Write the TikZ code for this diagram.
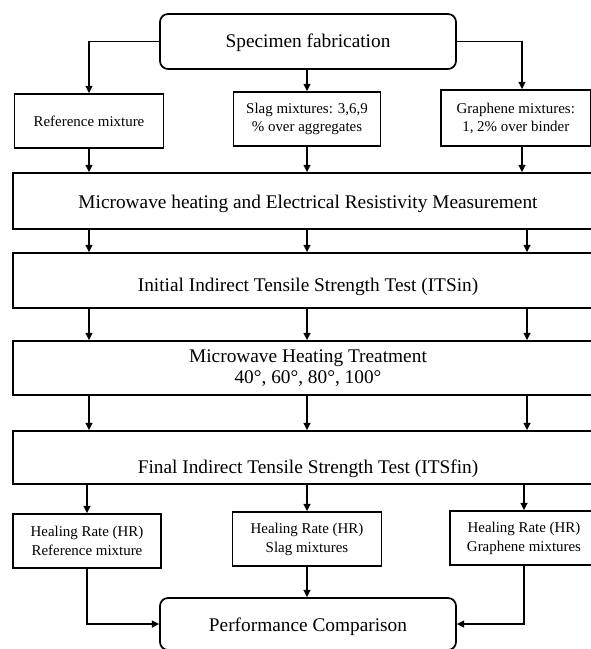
\documentclass[tikz,border=0pt]{standalone}
\usepackage{fontspec}
\setmainfont{Liberation Serif}
\usetikzlibrary{arrows.meta}

\tikzset{
  box/.style={draw, line width=1.3pt, align=center, inner sep=0pt},
  wide/.style={box, minimum width=442.5pt, font=\fontsize{14.5}{16.3}\selectfont},
  rbox/.style={box, rounded corners=6pt, minimum width=222pt, font=\fontsize{14.5}{16.3}\selectfont},
  small/.style={box, minimum height=40.5pt, font=\fontsize{11.2}{14.3}\selectfont},
  tight/.style={font=\fontsize{11.2}{13.5}\selectfont},
  drop/.style={text height=#1, text depth=3pt},
  arr/.style={-{Triangle[length=5.5pt,width=5.2pt]}, line width=1.3pt},
}

\begin{document}
\begin{tikzpicture}[x=0.75pt, y=-0.75pt]
\useasboundingbox (0,0) rectangle (590,649);
% columns of the arrows
\coordinate (cL) at (89,0);
\coordinate (cM) at (307,0);
\coordinate (cR) at (527,0);
\coordinate (cRt) at (522,0);

\node[rbox, minimum height=41.25pt, drop=11.7pt] (spec) at (308,41.5) {Specimen fabrication};
\node[small, tight, minimum width=111.75pt] (ref) at (89,121) {Reference mixture};
\node[small, tight, minimum width=110.25pt] (slag) at (307,119) {Slag mixtures: 3,6,9\\ \% over aggregates};
\node[small, tight, minimum width=112.7pt, minimum height=42pt] (graph) at (515.8,118) {Graphene mixtures:\\ 1, 2\% over binder};

\node[wide, minimum height=42pt, drop=14.7pt] (mwh) at (308,201) {Microwave heating and Electrical Resistivity Measurement};
\node[wide, minimum height=41.25pt, drop=19.9pt] (itsin) at (308,280.5) {Initial Indirect Tensile Strength Test (ITSin)};
\node[wide, minimum height=40.5pt] (mht) at (308,368) {Microwave Heating Treatment\\ 40°, 60°, 80°, 100°};
\node[wide, minimum height=39.75pt, drop=26.7pt] (itsfin) at (308,457.5) {Final Indirect Tensile Strength Test (ITSfin)};

\node[small, minimum width=111pt] (hrref) at (87,541) {Healing Rate (HR)\\ Reference mixture};
\node[small, minimum width=111.6pt] (hrslag) at (307,539) {Healing Rate (HR)\\ Slag mixtures};
\node[small, minimum width=111pt] (hrgraph) at (524,538) {Healing Rate (HR)\\ Graphene mixtures};
\node[rbox, minimum height=39pt, drop=14.7pt] (perf) at (308,624) {Performance Comparison};

% fabrication to the mixtures
\draw[arr] (spec.west) -| (ref.north);
\draw[arr] (spec.south -| slag.north) -- (slag.north);
\draw[arr] (spec.east) -| (graph.north -| cRt);
\draw[arr] (ref.south) -- (ref.south |- mwh.north);
\draw[arr] (slag.south) -- (slag.south |- mwh.north);
\draw[arr] (graph.south -| cRt) -- (mwh.north -| cRt);

% tests
\foreach \a/\b in {mwh/itsin, itsin/mht, mht/itsfin}
  \foreach \c in {cL,cM,cR}
    \draw[arr] (\a.south -| \c) -- (\b.north -| \c);

% healing rates
\draw[arr] (itsfin.south -| hrref.north) -- (hrref.north);
\draw[arr] (itsfin.south -| hrslag.north) -- (hrslag.north);
\draw[arr] (itsfin.south -| hrgraph.north) -- (hrgraph.north);
\draw[arr] (hrref.south) |- (perf.west);
\draw[arr] (hrslag.south) -- (hrslag.south |- perf.north);
\draw[arr] (hrgraph.south) |- (perf.east);
\end{tikzpicture}
\end{document}
